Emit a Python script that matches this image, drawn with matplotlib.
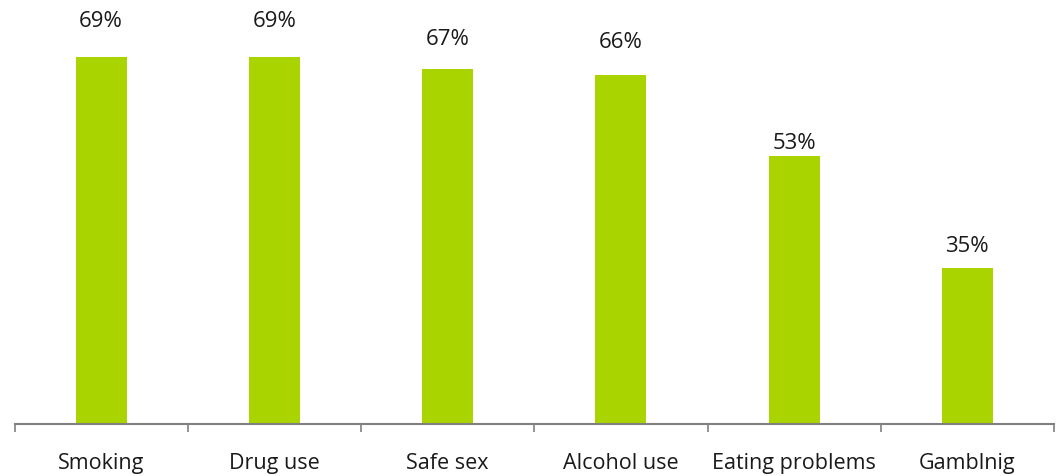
import matplotlib
matplotlib.use("Agg")
import matplotlib.pyplot as plt
from matplotlib.ticker import FixedLocator

categories = ["Smoking", "Drug use", "Safe sex", "Alcohol use", "Eating problems", "Gamblnig"]
values = [69, 69, 67, 66, 53, 35]
value_labels = ["69%", "69%", "67%", "66%", "53%", "35%"]

# layout constants (label offset above bar top, in pixels)
label_offsets_px = [35, 35, 30, 33, 13, 21.5]

plt.rcParams['font.family'] = ['Open Sans', 'DejaVu Sans']

W, H = 1063, 476
fig = plt.figure(figsize=(W / 100, H / 100), dpi=100)
ax = fig.add_axes([14.5 / W, (H - 423.5) / H, (1054 - 14.5) / W, 423.5 / H])

x = list(range(len(categories)))
bars = ax.bar(x, values, width=0.294, color="#aad400", zorder=2)

ax.set_xlim(-0.5, len(categories) - 0.5)
ax.set_ylim(10, 78.1)

for xi, v, lab, off in zip(x, values, value_labels, label_offsets_px):
    ax.annotate(lab, xy=(xi, v), xytext=(0, off), textcoords="offset pixels",
                ha="center", va="center", fontsize=16, color="#1a1a1a",
                annotation_clip=False)

for side in ["top", "right", "left"]:
    ax.spines[side].set_visible(False)
ax.spines["bottom"].set_color("#808080")
ax.spines["bottom"].set_linewidth(1.5)
ax.yaxis.set_visible(False)

ax.set_xticks(x)
ax.set_xticklabels(categories, fontsize=15.5, color="#1a1a1a")
ax.tick_params(axis="x", which="major", length=0, pad=21)
ax.xaxis.set_minor_locator(FixedLocator([i - 0.5 for i in range(len(categories) + 1)]))
ax.tick_params(axis="x", which="minor", length=6, width=1.2, color="#808080")

fig.savefig("out.png", dpi=100, facecolor="white")
